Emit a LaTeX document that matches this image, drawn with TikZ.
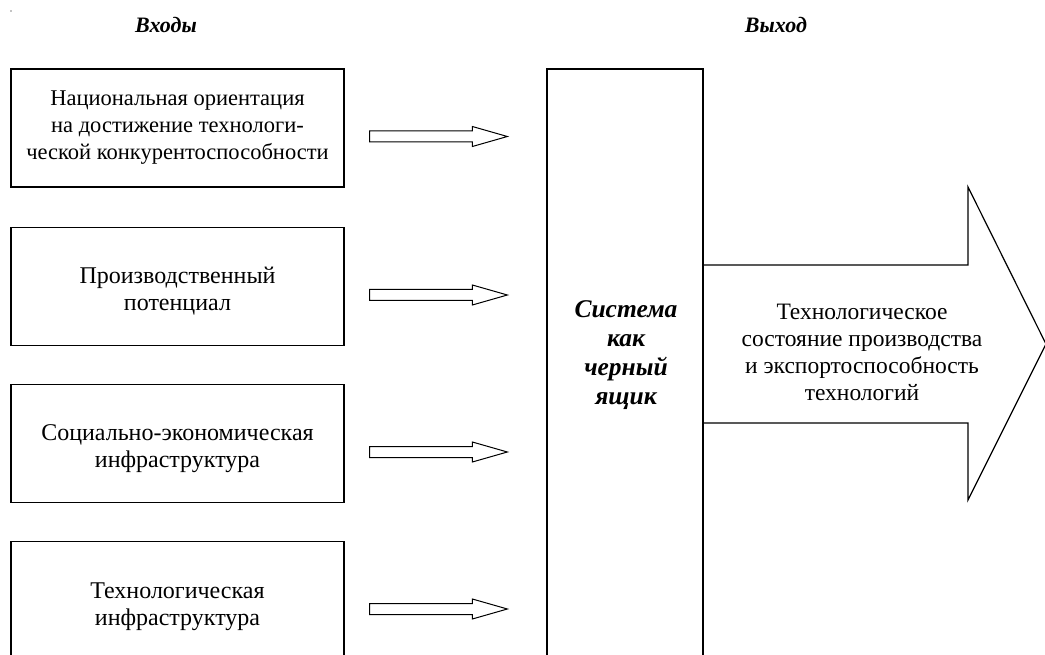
\documentclass[tikz,border=0pt]{standalone}
\usepackage{fontspec}
\setmainfont{Liberation Serif}
\usetikzlibrary{calc}
\tikzset{
  inbox/.style={draw, line width=1.3pt, minimum width=333pt, minimum height=118pt, inner sep=0pt},
  intext/.style={align=center, inner sep=0pt, font=\fontsize{24}{27}\selectfont},
  sysbox/.style={draw, line width=1.3pt, minimum width=156pt, minimum height=640pt, inner sep=0pt},
  heading/.style={font=\fontsize{22}{26}\selectfont\bfseries\itshape},
  systext/.style={align=center, font=\fontsize{25.5}{29}\selectfont\bfseries\itshape},
  outtext/.style={align=center, font=\fontsize{23.5}{27}\selectfont},
  arrowline/.style={draw, line width=1pt, line join=miter},
  bigarrow/.style={draw, line width=1.2pt, line join=miter},
}
\newcommand{\inarrow}[2]{%
  \draw[arrowline] let \p1=(#1), \p2=(#2) in
    (\x1,\y1+5.5pt) -- (\x2-35pt,\y1+5.5pt) -- (\x2-35pt,\y1+10pt) -- (\x2,\y1)
    -- (\x2-35pt,\y1-10pt) -- (\x2-35pt,\y1-5.5pt) -- (\x1,\y1-5.5pt) -- cycle;}
\begin{document}
\begin{tikzpicture}[x=1pt,y=-1pt]
\clip (0,0) rectangle (1045,655);
\fill (11,11) circle (0.6);

\node[heading] (hin) at (166,25) {Входы};
\node[heading] (hout) at (776,25) {Выход};

\node[inbox] (b1) at (177.5,128) {};
\node[inbox] (b2) at (177.5,286.5) {};
\node[inbox] (b3) at (177.5,443.5) {};
\node[inbox] (b4) at (177.5,600.5) {};

\node[intext, font=\fontsize{22.5}{27}\selectfont] (t1) at ($(b1.center)+(0,0)$) {Национальная ориентация\\на достижение технологи-\\ческой конкурентоспособности};
\node[intext] (t2) at ($(b2.center)+(0,5)$) {Производственный\\потенциал};
\node[intext] (t3) at ($(b3.center)+(0,5)$) {Социально-экономическая\\инфраструктура};
\node[intext] (t4) at ($(b4.center)+(0,6)$) {Технологическая\\инфраструктура};

\node[sysbox] (sys) at (625,389) {};
\node[systext] (systxt) at (626,355) {Система\\как\\черный\\ящик};

\foreach \i in {1,2,3,4}{
  \coordinate (s\i) at ($(b\i.east)+(25,8.5)$);
  \coordinate (e\i) at ($(sys.west |- s\i)+(-39,0)$);
  \inarrow{s\i}{e\i}
}

\coordinate (ot) at (sys.east |- 0,265);
\coordinate (ob) at (sys.east |- 0,423);
\draw[bigarrow] (ot) -- (968,265) -- (968,187) -- (1046,344) -- (968,500) -- (968,423) -- (ob);
\node[outtext] (outtxt) at (862,352) {Технологическое\\состояние производства\\и экспортоспособность\\технологий};
\end{tikzpicture}
\end{document}
